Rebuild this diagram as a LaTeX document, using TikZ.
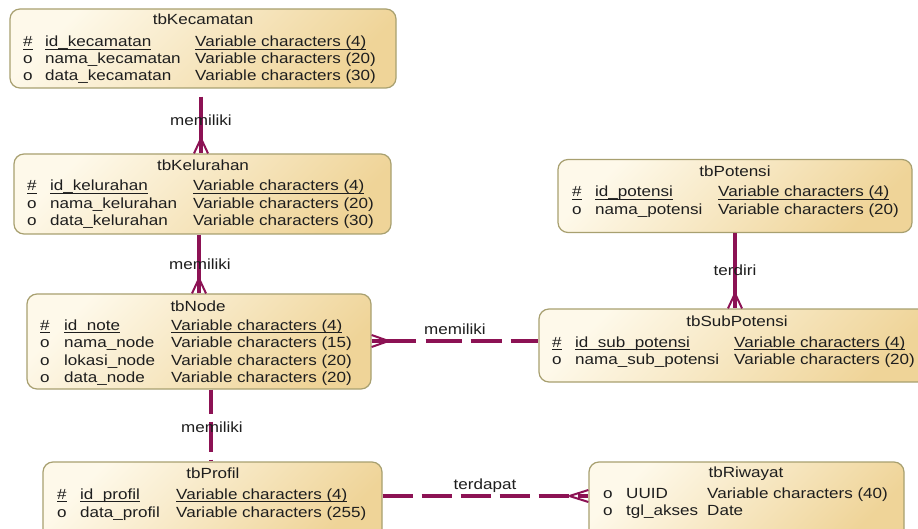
\documentclass[tikz,border=0pt]{standalone}
\usepackage{fontspec}
\setmainfont{Liberation Sans}[FakeStretch=1.16]
\usetikzlibrary{calc}
\definecolor{relc}{RGB}{140,18,84}
\definecolor{boxborder}{RGB}{168,160,112}
\definecolor{boxlight}{RGB}{254,249,234}
\definecolor{boxdark}{RGB}{239,212,152}
\definecolor{txt}{RGB}{30,30,30}
\newcommand\ulx[1]{\setbox0\hbox{#1}\rlap{\rule[-2.6pt]{\wd0}{0.9pt}}\box0}
\newcommand\erow[8]{%
  \node[cell] (#1a) at (#2,#5+5) {#6};
  \node[cell] (#1b) at (#3,#5+5) {#7};
  \node[cell] (#1c) at (#4,#5+5) {#8};}
\begin{document}
\begin{tikzpicture}[x=1pt,y=-1pt,
  entity/.style={draw=boxborder, line width=1.2pt, rounded corners=10pt,
    top color=boxlight, bottom color=boxdark, shading angle=45, inner sep=0pt},
  cell/.style={anchor=base west, inner sep=0pt, text=txt,
    font=\fontsize{14.7}{17}\selectfont},
  ttl/.style={cell, anchor=base},
  lbl/.style={inner sep=0pt, text=txt, font=\fontsize{14.7}{17}\selectfont},
  relline/.style={draw=relc, line width=3.2pt},
  crowline/.style={draw=relc, line width=2pt}]
\useasboundingbox[fill=white] (0,0) rectangle (918,529);

% entities
\node[entity, minimum width=386pt, minimum height=79pt] (kec) at (203,48.5) {};
\node[entity, minimum width=377pt, minimum height=80pt] (kel) at (202.5,194) {};
\node[entity, minimum width=344pt, minimum height=95pt] (nod) at (199,341.5) {};
\node[entity, minimum width=339pt, minimum height=80pt] (prof) at (212.5,502) {};
\node[entity, minimum width=354pt, minimum height=73pt] (pot) at (735,196) {};
\node[entity, minimum width=396pt, minimum height=73pt] (sub) at (737,345.5) {};
\node[entity, minimum width=315pt, minimum height=80pt] (riw) at (746.5,502) {};

% tbKecamatan
\node[ttl] (kect) at (203,25) {tbKecamatan};
\erow{kec1}{23}{45}{195}{42}{\ulx{\#}}{\ulx{id\_kecamatan}}{\ulx{Variable characters (4)}}
\erow{kec2}{23}{45}{195}{59}{o}{nama\_kecamatan}{Variable characters (20)}
\erow{kec3}{23}{45}{195}{76}{o}{data\_kecamatan}{Variable characters (30)}

% tbKelurahan
\node[ttl] (kelt) at (203,171) {tbKelurahan};
\erow{kel1}{27}{50}{193}{186}{\ulx{\#}}{\ulx{id\_kelurahan}}{\ulx{Variable characters (4)}}
\erow{kel2}{27}{50}{193}{204}{o}{nama\_kelurahan}{Variable characters (20)}
\erow{kel3}{27}{50}{193}{221}{o}{data\_kelurahan}{Variable characters (30)}

% tbNode
\node[ttl] (nodt) at (198,311) {tbNode};
\erow{nod1}{40}{64}{171}{325}{\ulx{\#}}{\ulx{id\_note}}{\ulx{Variable characters (4)}}
\erow{nod2}{40}{64}{171}{342}{o}{nama\_node}{Variable characters (15)}
\erow{nod3}{40}{64}{171}{360}{o}{lokasi\_node}{Variable characters (20)}
\erow{nod4}{40}{64}{171}{377}{o}{data\_node}{Variable characters (20)}

% tbProfil
\node[ttl] (proft) at (213,478) {tbProfil};
\erow{prof1}{57}{80}{176}{494}{\ulx{\#}}{\ulx{id\_profil}}{\ulx{Variable characters (4)}}
\erow{prof2}{57}{80}{176}{512}{o}{data\_profil}{Variable characters (255)}

% tbPotensi
\node[ttl] (pott) at (735,177) {tbPotensi};
\erow{pot1}{572}{595}{718}{192}{\ulx{\#}}{\ulx{id\_potensi}}{\ulx{Variable characters (4)}}
\erow{pot2}{572}{595}{718}{210}{o}{nama\_potensi}{Variable characters (20)}

% tbSubPotensi
\node[ttl] (subt) at (737,326) {tbSubPotensi};
\erow{sub1}{552}{575}{734}{342}{\ulx{\#}}{\ulx{id\_sub\_potensi}}{\ulx{Variable characters (4)}}
\erow{sub2}{552}{575}{734}{359}{o}{nama\_sub\_potensi}{Variable characters (20)}

% tbRiwayat
\node[ttl] (riwt) at (746,477) {tbRiwayat};
\erow{riw1}{603}{626}{707}{493}{o}{UUID}{Variable characters (40)}
\erow{riw2}{603}{626}{707}{510}{o}{tgl\_akses}{Date}

% ---- relationships ----
% kecamatan - kelurahan
\coordinate (r1a) at ($(kec.south)+(-2,8)$);
\coordinate (r1b) at (kel.north -| r1a);
\draw[relline] (r1a) -- (r1b);
\draw[crowline] ($(r1b)+(0,-15)$) -- ($(r1b)+(-7,0)$) ($(r1b)+(0,-15)$) -- ($(r1b)+(7,0)$);
\node[lbl] (l1) at ($(r1a)!0.42!(r1b)$) {memiliki};

% kelurahan - node
\coordinate (r2x) at (199,0);
\coordinate (r2a) at (kel.south -| r2x);
\coordinate (r2b) at (nod.north -| r2x);
\draw[relline] (r2a) -- (r2b);
\draw[crowline] ($(r2b)+(0,-15)$) -- ($(r2b)+(-7,0)$) ($(r2b)+(0,-15)$) -- ($(r2b)+(7,0)$);
\node[lbl] (l2) at (200,264) {memiliki};

% node - profil
\coordinate (r3x) at (211,0);
\coordinate (r3a) at (nod.south -| r3x);
\coordinate (r3b) at (prof.north -| r3x);
\draw[relline, dash pattern=on 24pt off 8pt on 30pt off 8pt on 20pt] (r3a) -- (r3b);
\node[lbl] (l3) at (212,427) {memiliki};

% node - subpotensi
\coordinate (r4y) at (0,341);
\coordinate (r4a) at (nod.east |- r4y);
\coordinate (r4b) at (sub.west |- r4y);
\draw[relline, dash pattern=on 44pt off 10pt on 36pt off 9pt on 31pt off 9pt on 40pt] (r4a) -- (r4b);
\draw[crowline] ($(r4a)+(17,0)$) -- ($(r4a)+(0,-6)$) ($(r4a)+(17,0)$) -- ($(r4a)+(0,6)$);
\node[lbl] (l4) at (455,329) {memiliki};

% potensi - subpotensi
\coordinate (r5x) at (735,0);
\coordinate (r5a) at (pot.south -| r5x);
\coordinate (r5b) at (sub.north -| r5x);
\draw[relline] (r5a) -- (r5b);
\draw[crowline] ($(r5b)+(0,-15)$) -- ($(r5b)+(-7,0)$) ($(r5b)+(0,-15)$) -- ($(r5b)+(7,0)$);
\node[lbl] (l5) at (735,270) {terdiri};

% profil - riwayat
\coordinate (r6y) at (0,496);
\coordinate (r6a) at (prof.east |- r6y);
\coordinate (r6b) at (riw.west |- r6y);
\draw[relline, dash pattern=on 30pt off 9pt] (r6a) -- (r6b);
\draw[crowline] ($(r6b)+(-19,0)$) -- ($(r6b)+(0,-6)$) ($(r6b)+(-19,0)$) -- ($(r6b)+(0,6)$);
\node[lbl] (l6) at (485,486) {terdapat};
\end{tikzpicture}
\end{document}
